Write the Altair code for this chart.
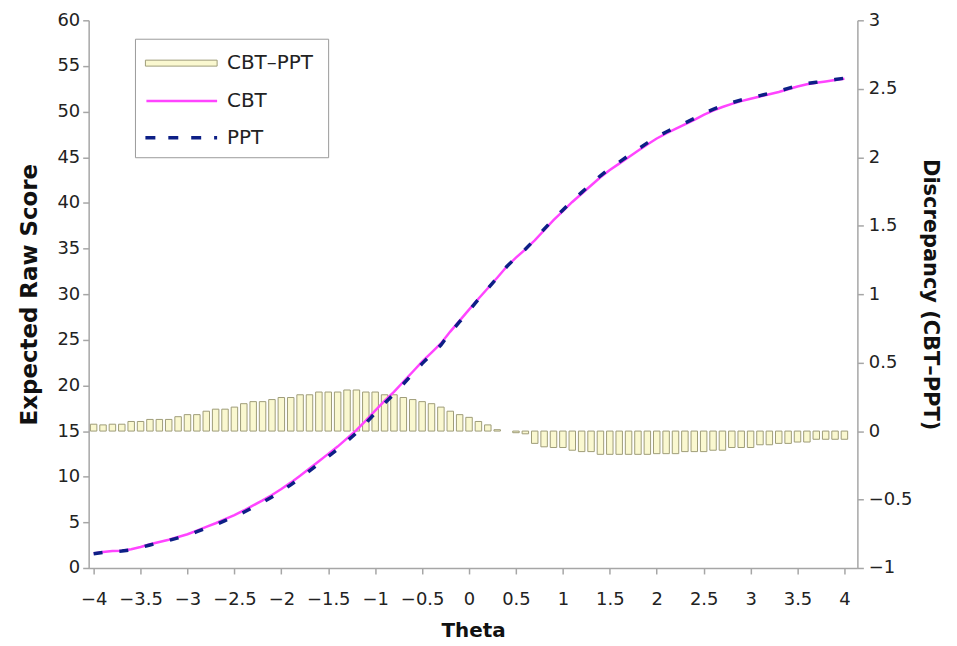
import altair as alt
import pandas as pd

theta = [round(-4 + 0.1 * i, 1) for i in range(81)]

cbt = [1.6, 1.75, 1.85, 1.9, 2.05, 2.3, 2.6, 2.85, 3.1, 3.4,
       3.7, 4.1, 4.5, 4.9, 5.35, 5.8, 6.3, 6.85, 7.4, 8.0,
       8.65, 9.35, 10.1, 10.9, 11.7, 12.5, 13.3, 14.2, 15.1, 16.15,
       17.25, 18.3, 19.3, 20.4, 21.5, 22.6, 23.6, 24.6, 25.9, 27.1,
       28.3, 29.5, 30.65, 31.8, 33.0, 34.0, 34.9, 35.9, 37.0, 38.1,
       39.1, 40.1, 41.0, 41.9, 42.8, 43.6, 44.3, 45.0, 45.7, 46.4,
       47.05, 47.6, 48.1, 48.6, 49.1, 49.65, 50.1, 50.5, 50.85, 51.15,
       51.4, 51.65, 51.9, 52.15, 52.45, 52.75, 53.0, 53.15, 53.3, 53.45,
       53.6]

ppt = [1.55, 1.70, 1.80, 1.85, 1.98, 2.23, 2.52, 2.77, 3.02, 3.30,
       3.58, 3.98, 4.36, 4.74, 5.19, 5.63, 6.10, 6.64, 7.19, 7.77,
       8.41, 9.11, 9.84, 10.64, 11.42, 12.22, 13.02, 13.90, 14.80, 15.87,
       16.97, 18.04, 19.04, 20.16, 21.27, 22.39, 23.40, 24.43, 25.76, 26.98,
       28.20, 29.43, 30.61, 31.79, 33.00, 34.02, 34.92, 35.99, 37.12, 38.22,
       39.22, 40.24, 41.15, 42.05, 42.97, 43.77, 44.47, 45.17, 45.87, 46.57,
       47.22, 47.77, 48.27, 48.75, 49.25, 49.80, 50.24, 50.64, 50.97, 51.27,
       51.52, 51.75, 52.00, 52.24, 52.54, 52.83, 53.08, 53.21, 53.36, 53.51,
       53.66]

diff = [0.05, 0.045, 0.05, 0.05, 0.07, 0.07, 0.085, 0.085, 0.085, 0.105,
        0.12, 0.12, 0.145, 0.16, 0.16, 0.175, 0.2, 0.215, 0.215, 0.23,
        0.245, 0.245, 0.265, 0.265, 0.285, 0.285, 0.285, 0.3, 0.3, 0.285,
        0.285, 0.265, 0.265, 0.245, 0.23, 0.215, 0.2, 0.175, 0.145, 0.12,
        0.1, 0.07, 0.045, 0.01, 0.0, -0.012, -0.02, -0.09, -0.115, -0.12,
        -0.12, -0.14, -0.15, -0.15, -0.17, -0.17, -0.17, -0.17, -0.17, -0.17,
        -0.165, -0.165, -0.165, -0.15, -0.15, -0.15, -0.14, -0.14, -0.12, -0.12,
        -0.12, -0.1, -0.1, -0.09, -0.09, -0.08, -0.08, -0.06, -0.06, -0.06,
        -0.06]

x_ticks = [-4, -3.5, -3, -2.5, -2, -1.5, -1, -0.5, 0, 0.5, 1, 1.5, 2, 2.5, 3, 3.5, 4]
left_ticks = list(range(0, 65, 5))
right_ticks = [-1, -0.5, 0, 0.5, 1, 1.5, 2, 2.5, 3]

legend_labels = ["CBT\u2013PPT", "CBT", "PPT"]

df = pd.DataFrame({"theta": theta, "cbt": cbt, "ppt": ppt, "diff": diff})

FONT = "DejaVu Sans"
AX = "#a6a6a6"

x_enc = alt.X("theta:Q",
              scale=alt.Scale(domain=[-4, 4.085], nice=False, zero=False),
              axis=alt.Axis(values=x_ticks, title="Theta", format="~g",
                            labelFlush=False, labelOverlap=False,
                            labelPadding=17, titlePadding=12))

left_axis = alt.Axis(orient="left", values=left_ticks, title="Expected Raw Score",
                     titlePadding=15, titleFontSize=23, labelPadding=3)
left_scale = alt.Scale(domain=[0, 60], nice=False)

bars = alt.Chart(df).transform_filter("datum.diff != 0").mark_bar(
    size=6.5, fill="#faf8d0", stroke="#9e9c78", strokeWidth=1).encode(
    x=x_enc,
    y=alt.Y("diff:Q", scale=alt.Scale(domain=[-1, 3], nice=False),
            axis=alt.Axis(orient="right", values=right_ticks, format="~g",
                          title="Discrepancy (CBT\u2013PPT)", titleAngle=90,
                          titlePadding=8, titleFontSize=21, labelPadding=5)),
    y2=alt.datum(0),
)

cbt_line = alt.Chart(df).mark_line(color="#ff44ff", strokeWidth=2.5).encode(
    x=x_enc,
    y=alt.Y("cbt:Q", scale=left_scale, axis=left_axis),
)
ppt_line = alt.Chart(df).mark_line(color="#0d1f86", strokeWidth=3.5,
                                   strokeDash=[9, 17]).encode(
    x=x_enc,
    y=alt.Y("ppt:Q", scale=left_scale, axis=left_axis),
)
lines = alt.layer(cbt_line, ppt_line)

one = pd.DataFrame({"k": [0]})
leg_box = alt.Chart(one).mark_rect(fill="white", stroke="#9a9a9a", strokeWidth=1).encode(
    x=alt.value(47), x2=alt.value(241), y=alt.value(19), y2=alt.value(138))
leg_bar = alt.Chart(one).mark_rect(fill="#faf8d0", stroke="#9e9c78", strokeWidth=1).encode(
    x=alt.value(57), x2=alt.value(129), y=alt.value(40), y2=alt.value(46))
leg_cbt = alt.Chart(one).mark_rule(color="#ff44ff", strokeWidth=2.5).encode(
    x=alt.value(58), x2=alt.value(129), y=alt.value(81))
leg_ppt = alt.Chart(one).mark_rule(color="#0d1f86", strokeWidth=3.5,
                                   strokeDash=[10, 13]).encode(
    x=alt.value(57), x2=alt.value(129), y=alt.value(118))
leg_text = alt.Chart(pd.DataFrame({"label": legend_labels, "ypos": [43, 81, 118]})).mark_text(
    align="left", baseline="middle", font=FONT, fontSize=20, color="#222222").encode(
    x=alt.value(139), y=alt.Y("ypos:Q", scale=None, axis=None),
    text="label:N")

chart = alt.layer(bars, lines, leg_box, leg_bar, leg_cbt, leg_ppt, leg_text).resolve_scale(
    y="independent"
).properties(
    width=772, height=550,
    autosize=alt.AutoSizeParams(type="none"),
    padding={"left": 81, "top": 11, "right": 92, "bottom": 80},
).configure_view(stroke=None).configure_axis(
    domainColor=AX, domainWidth=1.5, tickColor=AX, tickWidth=1.5, tickSize=6,
    labelFont=FONT, labelFontSize=18, labelColor="#222222",
    titleFont=FONT, titleFontSize=20, titleFontWeight="bold", titleColor="#111111",
    grid=False,
)

chart.save("out.html", embed_options={"renderer": "svg", "actions": False})
